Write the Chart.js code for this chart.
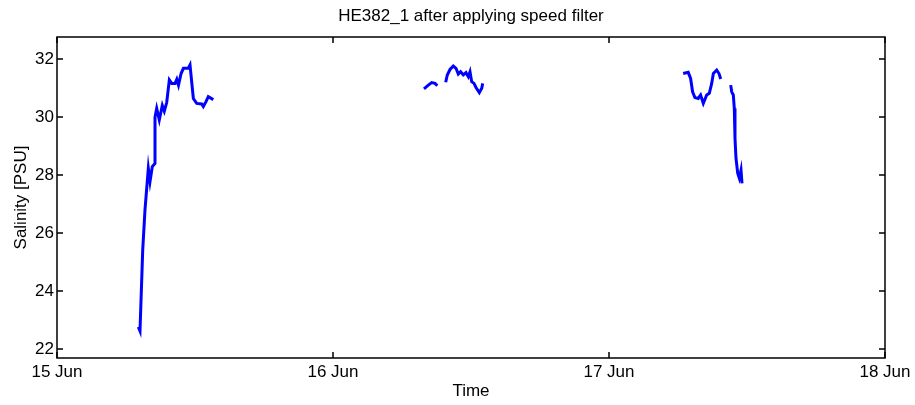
<!DOCTYPE html>
<html>
<head>
<meta charset="utf-8">
<script src="https://cdn.jsdelivr.net/npm/chart.js@4.4.0/dist/chart.umd.min.js"></script>
<style>
html,body{margin:0;padding:0;background:#fff;}
#wrap{width:915px;height:405px;}
</style>
</head>
<body>
<div id="wrap"><canvas id="c" width="915" height="405"></canvas></div>
<script>
// Time in days since 15 Jun 00:00; null separates gaps
const timeDays = [
  0.2946, 0.3007, 0.3105, 0.3188, 0.3309, 0.3370, 0.3453, 0.3551, 0.3551,
  0.3551, 0.3612, 0.3706, 0.3815, 0.3888, 0.3975, 0.4070, 0.4156, 0.4279, 0.4341, 0.4402, 0.4496, 0.4580, 0.4754, 0.4819, 0.4940, 0.5062, 0.5243, 0.5301, 0.5399, 0.5482, 0.5663,
  null,
  1.3297, 1.3453, 1.3576, 1.3696, 1.3779,
  null,
  1.4083, 1.4141, 1.4239, 1.4359, 1.4457, 1.4540, 1.4624, 1.4721, 1.4819, 1.4902, 1.4964, 1.5025, 1.5109, 1.5181, 1.5302, 1.5389, 1.5424,
  null,
  2.2688, 2.2870, 2.2957, 2.3029, 2.3112, 2.3232, 2.3319, 2.3417, 2.3540, 2.3634, 2.3721, 2.3781, 2.3902, 2.3985, 2.4047,
  null,
  2.4410, 2.4446, 2.4504, 2.4540, 2.4565, 2.4601, 2.4663, 2.4721, 2.4783, 2.4819
];
const salinity = [
  22.76, 22.62, 25.4, 26.8, 28.23, 27.77, 28.29, 28.4, 28.86,
  30.0, 30.3, 29.9, 30.4, 30.2, 30.5, 31.28, 31.16, 31.16, 31.3, 31.1, 31.5, 31.68, 31.68, 31.8, 30.64, 30.47, 30.45, 30.36, 30.53, 30.7, 30.6,
  null,
  30.97, 31.1, 31.19, 31.16, 31.08,
  null,
  31.2, 31.45, 31.64, 31.76, 31.68, 31.48, 31.56, 31.45, 31.53, 31.39, 31.56, 31.22, 31.16, 31.02, 30.84, 30.99, 31.16,
  null,
  31.5, 31.54, 31.33, 30.87, 30.67, 30.64, 30.76, 30.47, 30.76, 30.82, 31.16, 31.5, 31.62, 31.5, 31.31,
  null,
  31.1, 30.87, 30.76, 30.3, 29.27, 28.58, 28.06, 27.89, 28.17, 27.71
];
const xTickValues = [0, 1, 2, 3];
const xTickLabels = ['15 Jun', '16 Jun', '17 Jun', '18 Jun'];
const yTickValues = [22, 24, 26, 28, 30, 32];
const titleText = 'HE382_1 after applying speed filter';
const xLabel = 'Time';
const yLabel = 'Salinity [PSU]';

const points = timeDays.map((t, i) => (t === null ? {x: NaN, y: null} : {x: t, y: salinity[i]}));

const FONT = 'Arial, "Liberation Sans", Helvetica, sans-serif';
const FS = 17;

const boxPlugin = {
  id: 'matlabBox',
  afterDraw(chart) {
    const {ctx, chartArea: a, scales} = chart;
    ctx.save();
    ctx.strokeStyle = '#000';
    ctx.lineWidth = 1.5;
    ctx.strokeRect(a.left, a.top, a.right - a.left, a.bottom - a.top);
    const L = 6;
    ctx.beginPath();
    xTickValues.forEach(v => {
      const px = scales.x.getPixelForValue(v);
      ctx.moveTo(px, a.bottom); ctx.lineTo(px, a.bottom - L);
      ctx.moveTo(px, a.top); ctx.lineTo(px, a.top + L);
    });
    yTickValues.forEach(v => {
      const py = scales.y.getPixelForValue(v);
      ctx.moveTo(a.left, py); ctx.lineTo(a.left + L, py);
      ctx.moveTo(a.right, py); ctx.lineTo(a.right - L, py);
    });
    ctx.stroke();
    ctx.restore();
  }
};

new Chart(document.getElementById('c'), {
  type: 'line',
  data: {
    datasets: [{
      data: points,
      borderColor: 'rgb(0,0,255)',
      borderWidth: 3,
      pointRadius: 0,
      fill: false,
      tension: 0,
      spanGaps: false
    }]
  },
  plugins: [boxPlugin],
  options: {
    responsive: false,
    animation: false,
    devicePixelRatio: 1,
    parsing: false,
    layout: {padding: {left: 0, right: 30, top: 0, bottom: 0}},
    plugins: {
      legend: {display: false},
      tooltip: {enabled: false},
      title: {
        display: true,
        fullSize: false,
        text: titleText,
        color: '#000',
        font: {family: FONT, size: FS, weight: 'normal'},
        padding: {top: 6, bottom: 10.6}
      }
    },
    scales: {
      x: {
        type: 'linear',
        min: 0,
        max: 3,
        afterBuildTicks(s) { s.ticks = xTickValues.map(v => ({value: v})); },
        afterFit(s) { s.height = 47; },
        grid: {display: false, drawTicks: false},
        border: {display: false},
        ticks: {
          color: '#000',
          font: {family: FONT, size: FS},
          padding: 4,
          maxRotation: 0,
          autoSkip: false,
          callback: (v) => xTickLabels[xTickValues.indexOf(v)]
        },
        title: {
          display: true,
          text: xLabel,
          color: '#000',
          font: {family: FONT, size: FS},
          padding: {top: 0, bottom: 3}
        }
      },
      y: {
        type: 'linear',
        min: 21.69,
        max: 32.76,
        afterBuildTicks(s) { s.ticks = yTickValues.map(v => ({value: v})); },
        afterFit(s) { s.width = 57; },
        grid: {display: false, drawTicks: false},
        border: {display: false},
        ticks: {
          color: '#000',
          font: {family: FONT, size: FS},
          padding: 3
        },
        title: {
          display: true,
          text: yLabel,
          color: '#000',
          font: {family: FONT, size: FS},
          padding: {top: 11, bottom: 0}
        }
      }
    }
  }
});
</script>
</body>
</html>
